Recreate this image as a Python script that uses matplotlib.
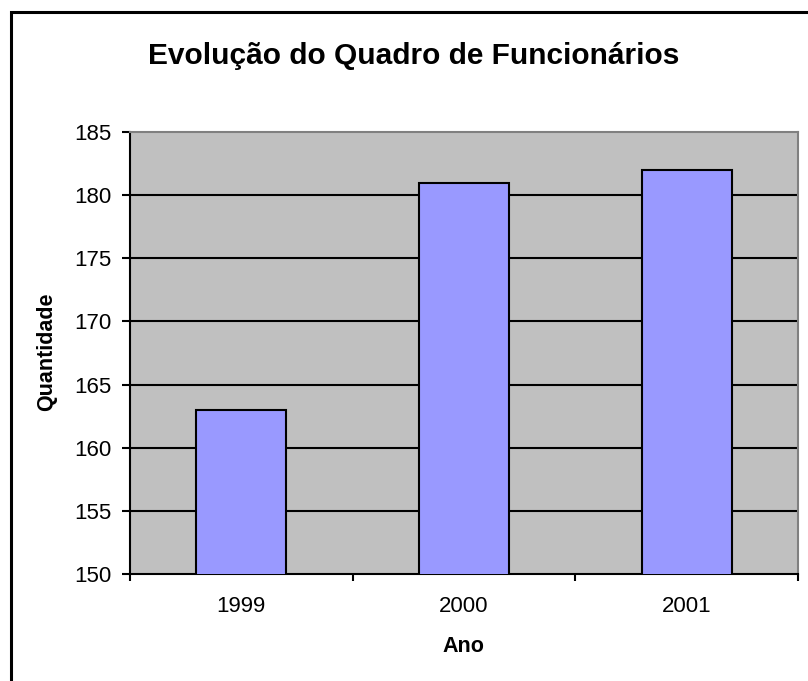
import matplotlib
matplotlib.use("Agg")
import matplotlib.pyplot as plt
from matplotlib.patches import Rectangle

plt.rcParams['font.family'] = ['Liberation Sans', 'DejaVu Sans']

# dados
anos = ['1999', '2000', '2001']
quantidade = [163, 181, 182]
yticks = [150, 155, 160, 165, 170, 175, 180, 185]

W, H = 808, 681
fig = plt.figure(figsize=(W / 100, H / 100), dpi=100)

# borda da area do grafico (estilo Excel, cortada a direita e em baixo)
fig.patches.append(Rectangle((10.5 / W, -0.1), 2, (H - 12) / H + 0.1,
                             transform=fig.transFigure, fill=False,
                             edgecolor='black', lw=2.2))

ax = fig.add_axes([130 / W, (H - 574) / H, 668 / W, 442 / H])
ax.set_facecolor('#C0C0C0')

x = list(range(len(anos)))
ax.bar(x, quantidade, width=0.405, color='#9999FF', edgecolor='black',
       linewidth=1.5, zorder=3)

ax.set_ylim(150, 185)
ax.set_xlim(-0.5, len(anos) - 0.5)
ax.set_yticks(yticks)
ax.set_yticklabels([str(v) for v in yticks], fontsize=16)
for v in yticks[1:-1]:
    ax.axhline(v, color='black', lw=1.5, zorder=1)

# ticks no eixo x entre categorias, rotulos no centro
ax.set_xticks([i - 0.5 for i in range(len(anos) + 1)])
ax.set_xticklabels([])
ax.set_xticks(x, minor=True)
ax.set_xticklabels(anos, minor=True, fontsize=16)
ax.tick_params(axis='x', which='major', direction='out', length=5, width=1.5)
ax.tick_params(axis='x', which='minor', length=0, pad=16)
ax.tick_params(axis='y', direction='out', length=6, width=1.5, pad=7)

for s in ['left', 'bottom']:
    ax.spines[s].set_color('black')
    ax.spines[s].set_linewidth(1.5)
for s in ['top', 'right']:
    ax.spines[s].set_color('#808080')
    ax.spines[s].set_linewidth(1.5)

fig.text(414 / W, 1 - 56 / H, 'Evolução do Quadro de Funcionários',
         ha='center', va='center', fontsize=21.5, fontweight='bold')
fig.text(463 / W, 1 - 647 / H, 'Ano', ha='center', va='center',
         fontsize=15.5, fontweight='bold')
fig.text(47 / W, 1 - 352 / H, 'Quantidade', ha='center', va='center',
         rotation=90, fontsize=15.5, fontweight='bold')

fig.savefig('out.png', dpi=100)
